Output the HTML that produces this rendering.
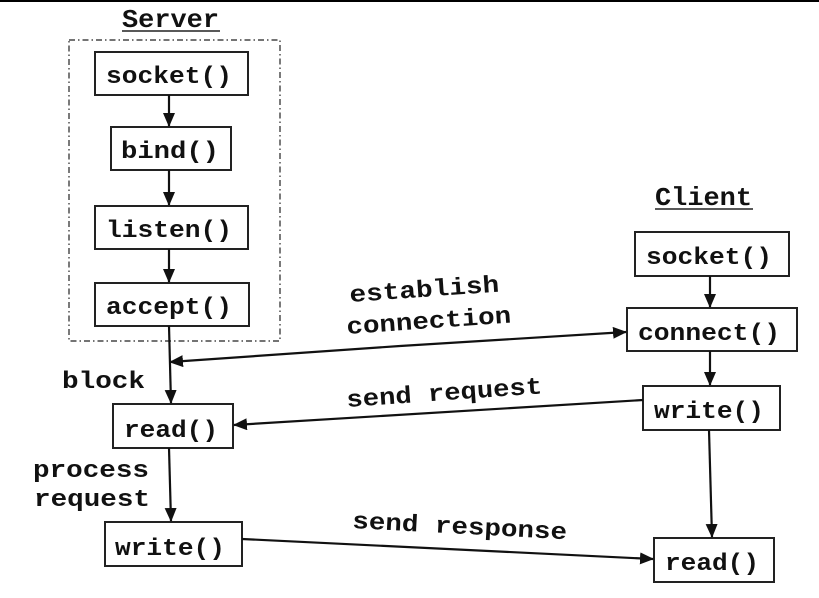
<!DOCTYPE html>
<html><head><style>
body{margin:0;background:#fff;}
svg{display:block}
text{font-family:"Courier New","Liberation Mono","Nimbus Mono PS",monospace;font-weight:bold;font-size:24px;fill:#111;}
</style></head><body>
<svg width="819" height="598" xmlns="http://www.w3.org/2000/svg">
<defs><marker id="a" markerWidth="14" markerHeight="14" refX="13" refY="6" orient="auto" markerUnits="userSpaceOnUse"><path d="M0,0 L14,6 L0,12 z" fill="#111"/></marker></defs>
<line x1="0" y1="1" x2="819" y2="1" stroke="#000" stroke-width="2"/>
<g stroke="#222" stroke-width="2" fill="none">
<rect x="69" y="40" width="211" height="301" stroke-width="1.2" stroke-dasharray="6,3,1.5,3"/>
<rect x="95" y="52" width="153" height="43"/>
<rect x="111" y="127" width="120" height="43"/>
<rect x="95" y="206" width="153" height="43"/>
<rect x="95" y="283" width="154" height="43"/>
<rect x="113" y="404" width="120" height="44"/>
<rect x="105" y="522" width="137" height="44"/>
<rect x="635" y="232" width="154" height="44"/>
<rect x="627" y="308" width="170" height="43"/>
<rect x="643" y="386" width="137" height="44"/>
<rect x="654" y="538" width="120" height="44"/>
</g>
<g stroke="#111" stroke-width="2.2" marker-end="url(#a)">
<line x1="169" y1="95" x2="169" y2="126"/>
<line x1="169" y1="170" x2="169" y2="205"/>
<line x1="169" y1="249" x2="169" y2="282"/>
<line x1="169" y1="326" x2="171" y2="403"/>
<line x1="169" y1="448" x2="171" y2="521"/>
<line x1="710" y1="276" x2="710" y2="307"/>
<line x1="710" y1="351" x2="710" y2="385"/>
<line x1="709" y1="430" x2="712" y2="537"/>
<line x1="242" y1="539" x2="653" y2="559"/>
<line x1="643" y1="400" x2="234" y2="425"/>
<line x1="400" y1="346" x2="626" y2="332"/>
<line x1="400" y1="346" x2="170" y2="362"/>
</g>
<text x="122" y="27" style="font-size:26px" textLength="97" lengthAdjust="spacingAndGlyphs">Server</text>
<line x1="122" y1="31" x2="220" y2="31" stroke="#222" stroke-width="1.5"/>
<text x="655" y="205" style="font-size:26px" textLength="97" lengthAdjust="spacingAndGlyphs">Client</text>
<line x1="655" y1="209" x2="753" y2="209" stroke="#222" stroke-width="1.5"/>
<text x="106" y="83" textLength="126" lengthAdjust="spacingAndGlyphs">socket()</text>
<text x="121" y="158" textLength="98" lengthAdjust="spacingAndGlyphs">bind()</text>
<text x="106" y="237" textLength="126" lengthAdjust="spacingAndGlyphs">listen()</text>
<text x="106" y="314" textLength="126" lengthAdjust="spacingAndGlyphs">accept()</text>
<text x="124" y="437" textLength="94" lengthAdjust="spacingAndGlyphs">read()</text>
<text x="115" y="555" textLength="110" lengthAdjust="spacingAndGlyphs">write()</text>
<text x="646" y="264" textLength="126" lengthAdjust="spacingAndGlyphs">socket()</text>
<text x="638" y="340" textLength="142" lengthAdjust="spacingAndGlyphs">connect()</text>
<text x="654" y="418" textLength="110" lengthAdjust="spacingAndGlyphs">write()</text>
<text x="665" y="570" textLength="94" lengthAdjust="spacingAndGlyphs">read()</text>
<text x="62" y="388" textLength="83" lengthAdjust="spacingAndGlyphs">block</text>
<text x="33" y="477" textLength="116" lengthAdjust="spacingAndGlyphs">process</text>
<text x="34" y="506" textLength="116" lengthAdjust="spacingAndGlyphs">request</text>
<text x="350" y="302" transform="rotate(-4 350 302)" textLength="150" lengthAdjust="spacingAndGlyphs">establish</text>
<text x="347" y="334" transform="rotate(-4 347 334)" textLength="165" lengthAdjust="spacingAndGlyphs">connection</text>
<text x="347" y="407" transform="rotate(-4 347 407)" textLength="196" lengthAdjust="spacingAndGlyphs">send request</text>
<text x="352" y="528" transform="rotate(3 352 528)" textLength="215" lengthAdjust="spacingAndGlyphs">send response</text>
</svg>
</body></html>
